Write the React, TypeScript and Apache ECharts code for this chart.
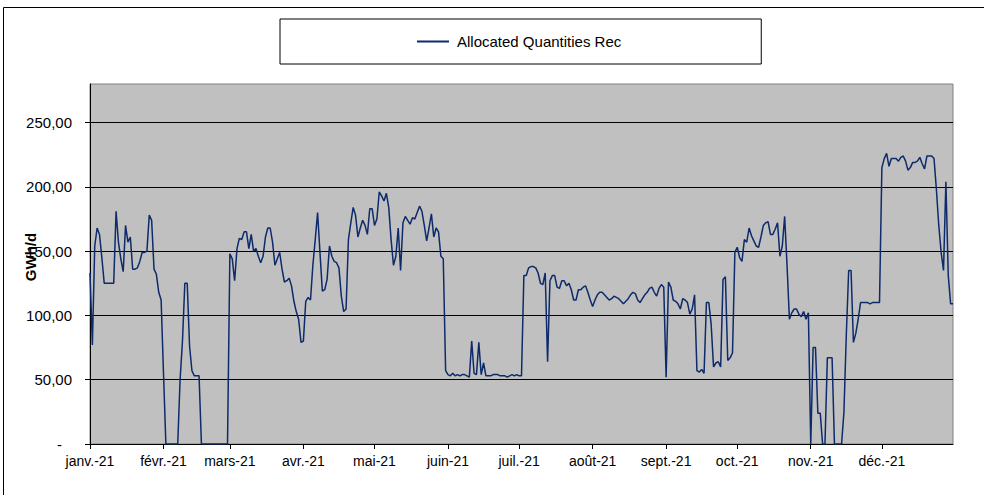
import React, { useEffect, useRef } from 'react';
import * as echarts from 'echarts';

const seriesName = 'Allocated Quantities Rec';
const monthLabels = ['janv.-21', 'févr.-21', 'mars-21', 'avr.-21', 'mai-21', 'juin-21', 'juil.-21', 'août-21', 'sept.-21', 'oct.-21', 'nov.-21', 'déc.-21'];
const monthLengths = [31, 28, 31, 30, 31, 30, 31, 31, 30, 31, 30, 31];
const yTicks = [0, 50, 100, 150, 200, 250];

// daily values, GWh/d
const jan = [133, 77, 154, 168, 163, 145, 125, 125, 125, 125, 125, 181, 157, 144, 134, 170, 157, 161, 136, 136, 137, 142, 149, 149, 150, 178, 174, 136, 132, 118, 112];
const feb = [55, 0, 0, 0, 0, 0, 0, 50, 80, 125, 125, 76, 57, 53, 53, 53, 0, 0, 0, 0, 0, 0, 0, 0, 0, 0, 0, 0];
const mar = [148, 144, 127, 152, 160, 159, 165, 165, 152, 163, 150, 152, 146, 141, 146, 161, 168, 168, 157, 139, 144, 149, 136, 126, 127, 129, 123, 111, 103, 97, 79];
const apr = [80, 111, 114, 112, 139, 159, 180, 149, 119, 120, 128, 154, 146, 142, 141, 137, 115, 103, 105, 159, 172, 184, 178, 161, 168, 174, 170, 163, 183, 183];
const may = [170, 175, 196, 193, 189, 195, 184, 159, 139, 146, 168, 135, 172, 177, 174, 171, 176, 175, 180, 185, 181, 170, 158, 168, 179, 161, 168, 165, 146, 144, 57];
const jun = [54, 53, 55, 53, 54, 53, 54, 54, 53, 52, 80, 55, 54, 79, 54, 63, 53, 53, 53, 54, 54, 54, 53, 53, 53, 52, 53, 54, 53, 54];
const jul = [53, 53, 131, 131, 137, 138, 138, 137, 133, 125, 124, 133, 64, 127, 131, 131, 122, 121, 127, 127, 123, 125, 120, 112, 112, 120, 120, 122, 123, 118, 112];
const aug = [107, 112, 116, 118, 118, 116, 114, 112, 113, 115, 114, 113, 111, 109, 111, 113, 116, 118, 117, 112, 110, 113, 116, 118, 121, 122, 118, 115, 121, 124, 122];
const sep = [52, 126, 122, 112, 111, 109, 105, 113, 112, 110, 101, 105, 116, 57, 56, 58, 55, 110, 110, 93, 60, 63, 64, 60, 128, 130, 65, 67, 71, 149];
const oct = [153, 145, 142, 159, 157, 168, 162, 158, 154, 153, 161, 170, 172, 173, 163, 163, 167, 172, 146, 154, 177, 139, 97, 102, 105, 105, 101, 99, 103, 97, 102];
const nov = [0, 75, 75, 24, 24, 0, 0, 67, 67, 67, 0, 0, 0, 0, 25, 85, 135, 135, 79, 86, 97, 110, 110, 110, 110, 109, 110, 110, 110, 110];
const dec = [215, 222, 226, 216, 222, 222, 222, 220, 223, 224, 220, 213, 215, 219, 219, 220, 223, 218, 214, 224, 224, 224, 222, 198, 170, 149, 135, 204, 131, 109, 109];

const pad = (n: number) => (n < 10 ? '0' + n : '' + n);
const categories: string[] = monthLengths.flatMap((len, m) =>
  Array.from({ length: len }, (_, i) => `2021-${pad(m + 1)}-${pad(i + 1)}`)
);
const values = [...jan, ...feb, ...mar, ...apr, ...may, ...jun, ...jul, ...aug, ...sep, ...oct, ...nov, ...dec];

const isMonthStart = (_idx: number, value: string) => value.endsWith('-01');

export default function App() {
  const ref = useRef<HTMLDivElement>(null);
  useEffect(() => {
    if (!ref.current) return;
    const chart = echarts.init(ref.current, null, { renderer: 'svg' });
    chart.setOption({
      animation: false,
      backgroundColor: '#ffffff',
      textStyle: { fontFamily: 'Liberation Sans, Arial, sans-serif', color: '#000' },
      graphic: [
        {
          type: 'rect',
          silent: true,
          z: -10,
          shape: { x: 3.5, y: 7.5, width: 1100, height: 700 },
          style: { fill: 'none', stroke: '#000', lineWidth: 1 },
        },
      ],
      legend: {
        data: [seriesName],
        left: 280,
        top: 19,
        padding: [15, 140, 15, 137],
        borderColor: '#000',
        borderWidth: 1,
        icon: 'rect',
        itemWidth: 32,
        itemHeight: 2,
        itemGap: 10,
        textStyle: { fontSize: 15, color: '#000', fontFamily: 'Liberation Sans, Arial, sans-serif', padding: [0, 0, 0, 3] },
      },
      grid: {
        left: 90,
        right: 31,
        top: 84,
        bottom: 51,
        show: true,
        outerBoundsMode: 'none',
        containLabel: false,
        backgroundColor: '#C0C0C0',
        borderColor: '#808080',
        borderWidth: 1,
      },
      xAxis: {
        type: 'category',
        data: categories,
        boundaryGap: false,
        axisLine: { show: true, lineStyle: { color: '#000', width: 1 } },
        axisTick: { show: true, interval: isMonthStart, length: 5, lineStyle: { color: '#000' } },
        axisLabel: {
          interval: isMonthStart,
          margin: 10,
          fontSize: 14,
          color: '#000',
          formatter: (v: string) => monthLabels[parseInt(v.slice(5, 7), 10) - 1],
        },
        splitLine: { show: false },
      },
      yAxis: {
        type: 'value',
        min: 0,
        max: 280,
        interval: 50,
        name: 'GWh/d',
        nameLocation: 'middle',
        nameRotate: 90,
        nameGap: 52,
        nameMoveOverlap: false,
        nameTextStyle: { fontWeight: 'bold', fontSize: 15, color: '#000', padding: [0, 0, 0, 14] },
        axisLine: { show: true, lineStyle: { color: '#000', width: 1 } },
        axisTick: { show: true, length: 5, customValues: yTicks, lineStyle: { color: '#000' } },
        axisLabel: {
          customValues: yTicks,
          margin: 18,
          fontSize: 15,
          color: '#000',
          formatter: (v: number) => (v === 0 ? '{dash|-}' : v.toFixed(2).replace('.', ',')),
          rich: { dash: { padding: [0, 10, 0, 0], fontSize: 15, color: '#000' } },
        },
        splitLine: {
          show: true,
          lineStyle: { color: ['#000', '#000', '#000', '#000', '#000', '#000', '#808080'], width: 1 },
        },
      },
      series: [
        {
          name: seriesName,
          type: 'line',
          data: values,
          symbol: 'none',
          showSymbol: false,
          color: '#0d2a6b',
          lineStyle: { color: '#0d2a6b', width: 1.5 },
        },
      ],
    });
    return () => chart.dispose();
  }, []);
  return (
    <div
      ref={ref}
      style={{ position: 'absolute', left: 0, top: 0, width: 984, height: 495, background: '#fff' }}
    />
  );
}
